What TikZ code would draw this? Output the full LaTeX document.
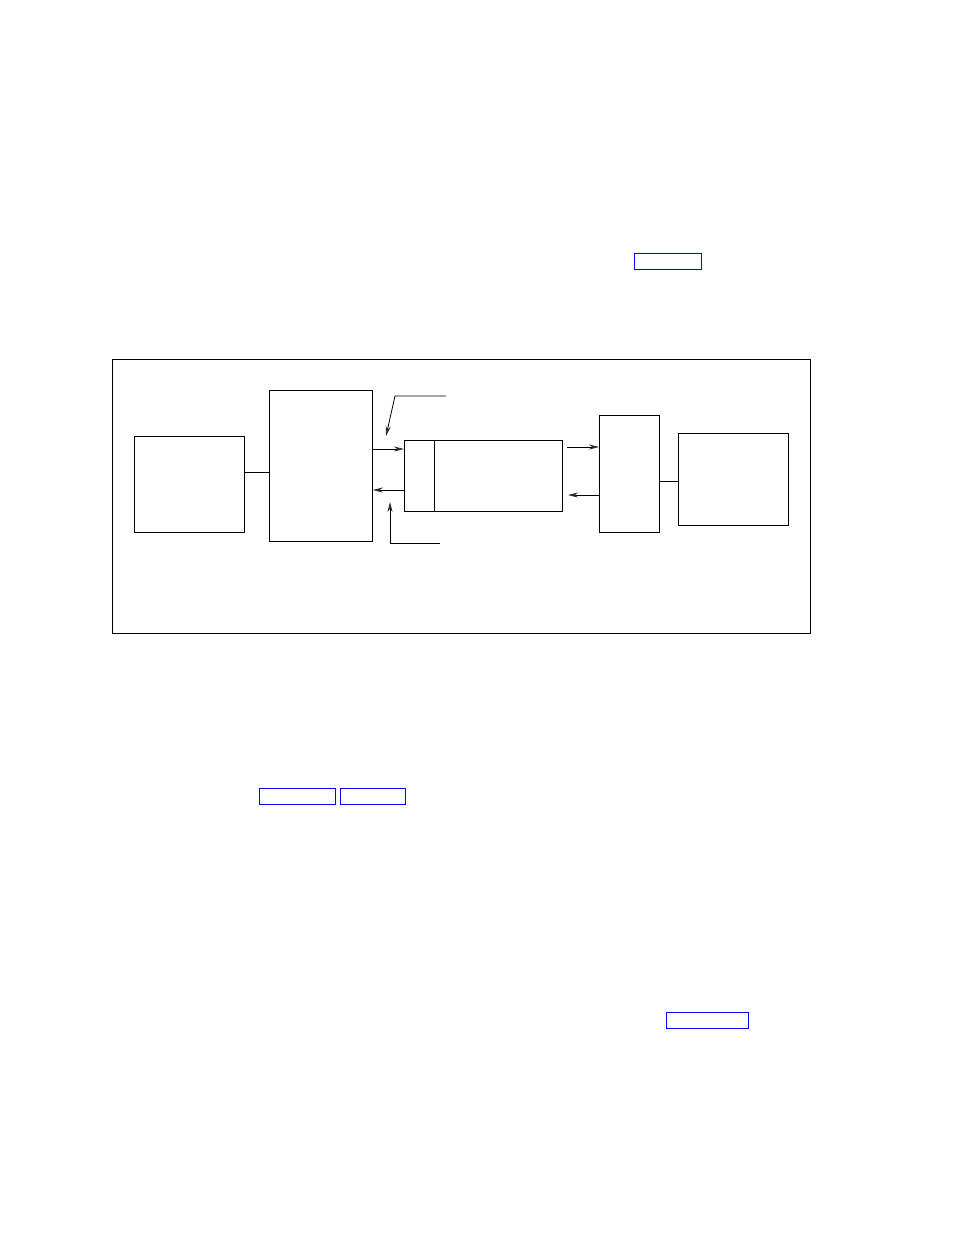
\documentclass[tikz,border=0pt]{standalone}
\usetikzlibrary{arrows.meta}
\begin{document}
\begin{tikzpicture}[x=1pt,y=-1pt,
    blk/.style={draw,rectangle,inner sep=0pt,line width=0.8pt,anchor=north west},
    lnk/.style={draw=blue,rectangle,inner sep=0pt,line width=1.4pt,anchor=north west},
    arr/.style={line width=0.8pt,-{Stealth[length=10pt,width=5pt,color=black!85,fill=gray!60!black]}}]
    \useasboundingbox (0,0) rectangle (954,1235);

    % Outer frame
    \node[blk,minimum width=698pt,minimum height=274pt] (frame) at (112,359) {};

    % Blocks
    \node[blk,minimum width=110pt,minimum height=96pt] (a) at (134,436) {};
    \node[blk,minimum width=103pt,minimum height=151pt] (b) at (269,390) {};
    \node[blk,minimum width=30pt,minimum height=71pt] (c) at (404,440) {};
    \node[blk,minimum width=128pt,minimum height=71pt] (d) at (434,440) {};
    \node[blk,minimum width=60pt,minimum height=117pt] (e) at (599,415) {};
    \node[blk,minimum width=110pt,minimum height=92pt] (f) at (678,433) {};

    % Plain links
    \draw[line width=0.8pt] (a.east |- 0,472) -- (b.west |- 0,472);
    \draw[line width=0.8pt] (e.east |- 0,481) -- (f.west |- 0,481);

    % Arrows between blocks
    \draw[arr] (b.east |- 0,449) -- (c.west |- 0,449);
    \draw[arr] (c.west |- 0,490) -- (b.east |- 0,490);
    \coordinate (d1) at (567,447);
    \coordinate (d2) at (568,495);
    \draw[arr] (d1) -- (e.west |- d1);
    \draw[arr] (e.west |- d2) -- (d2);

    % Leaders
    \coordinate (t0) at (446,396);
    \coordinate (t1) at (395,396);
    \coordinate (t2) at (386,436);
    \draw[arr] (t0) -- (t1) -- (t2);
    \coordinate (u0) at (440,543);
    \coordinate (u1) at (390,543);
    \coordinate (u2) at (390,502);
    \draw[arr] (u0) -- (u1) -- (u2);

    % Link boxes
    \node[lnk,minimum width=67pt,minimum height=16pt] (l1) at (634,253) {};
    \node[lnk,minimum width=76pt,minimum height=16pt] (l2) at (259,788) {};
    \node[lnk,minimum width=65pt,minimum height=16pt] (l3) at (340,788) {};
    \node[lnk,minimum width=82pt,minimum height=16pt] (l4) at (666,1012) {};
  \end{tikzpicture}
\end{document}
